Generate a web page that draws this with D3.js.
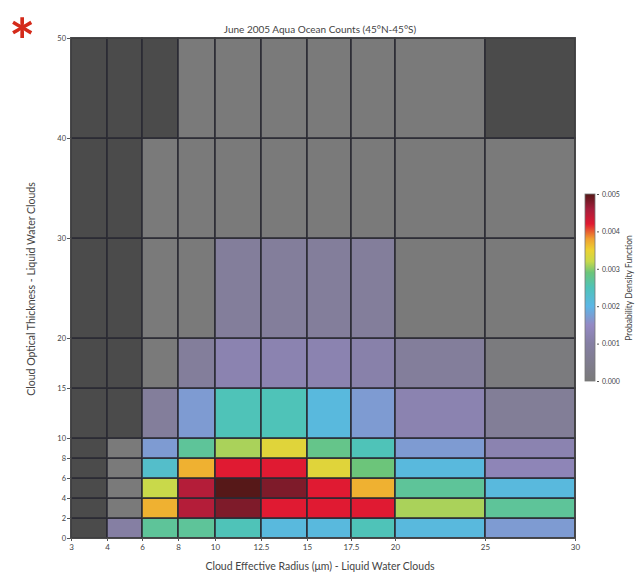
<!DOCTYPE html>
<html>
<head>
<meta charset="utf-8">
<script src="https://cdn.jsdelivr.net/npm/d3@7"></script>
<style>
  body { margin: 0; background: #fff; }
  svg text { font-family: Lato, "Open Sans", sans-serif; fill: #444; }
  .axis path, .axis line { stroke: #555; }
</style>
</head>
<body>
<script>
//Bin edges
var xEdges = [3, 4, 6, 8, 10, 12.5, 15, 17.5, 20, 25, 30];
var yEdges = [0, 2, 4, 6, 8, 10, 15, 20, 30, 40, 50];

//PDF values per row (bottom row first), null = no data
var row0_2   = [null, 0.0010, 0.0027, 0.0027, 0.0025, 0.0021, 0.0021, 0.0025, 0.0021, 0.0017];
var row2_4   = [null, 0.0000, 0.0037, 0.0045, 0.0048, 0.0042, 0.0042, 0.0042, 0.0031, 0.0027];
var row4_6   = [null, 0.0000, 0.0032, 0.0045, 0.0050, 0.0048, 0.0042, 0.0037, 0.0027, 0.0021];
var row6_8   = [null, 0.0000, 0.0023, 0.0037, 0.0042, 0.0042, 0.0034, 0.0029, 0.0021, 0.0013];
var row8_10  = [null, 0.0000, 0.0017, 0.0027, 0.0031, 0.0034, 0.0028, 0.0025, 0.0017, 0.0012];
var row10_15 = [null, null, 0.0008, 0.0017, 0.0025, 0.0025, 0.0021, 0.0017, 0.0012, 0.0007];
var row15_20 = [null, null, 0.0000, 0.0008, 0.0012, 0.0012, 0.0012, 0.0011, 0.0008, 0.0001];
var row20_30 = [null, null, 0.0000, 0.0000, 0.0008, 0.0008, 0.0008, 0.0008, 0.0000, 0.0000];
var row30_40 = [null, null, 0.0000, 0.0000, 0.0000, 0.0000, 0.0000, 0.0000, 0.0000, 0.0000];
var row40_50 = [null, null, null, 0.0000, 0.0000, 0.0000, 0.0000, 0.0000, 0.0000, null];
var rows = [row0_2, row2_4, row4_6, row6_8, row8_10, row10_15, row15_20, row20_30, row30_40, row40_50];

var xTicks = [3, 4, 6, 8, 10, 12.5, 15, 17.5, 20, 25, 30];
var yTicks = [0, 2, 4, 6, 8, 10, 15, 20, 30, 40, 50];
var cbTicks = [0, 0.001, 0.002, 0.003, 0.004, 0.005];

//Colour map stops
var cStops = [0, 0.001, 0.0015, 0.002, 0.0025, 0.0029, 0.0032, 0.0035, 0.0038, 0.0042, 0.0046, 0.005];
var cColors = ["#7a7a7a", "#857fa3", "#9489c4", "#5cb6e6", "#4fc3b8", "#6cc57a", "#c9d94a", "#ecd232", "#f0a030", "#e01a32", "#a51e3c", "#561818"];

var w = 642;
var h = 577;

var color = d3.scaleLinear().domain(cStops).range(cColors).clamp(true);

//Piecewise x scale, linear y scale
var xScale = d3.scaleLinear()
  .domain(xEdges)
  .range([71, 107, 142, 178, 215, 261, 307, 351, 395, 485, 575]);
var yScale = d3.scaleLinear().domain([0, 50]).range([538, 38]);

var svg = d3.select("body").append("svg").attr("width", w).attr("height", h);

//Cells
var cells = [];
rows.forEach(function (r, j) {
  r.forEach(function (v, i) {
    cells.push({ x0: xEdges[i], x1: xEdges[i + 1], y0: yEdges[j], y1: yEdges[j + 1], v: v });
  });
});

svg.append("g")
  .selectAll("rect")
  .data(cells)
  .enter()
  .append("rect")
  .attr("x", function (d) { return xScale(d.x0); })
  .attr("y", function (d) { return yScale(d.y1); })
  .attr("width", function (d) { return xScale(d.x1) - xScale(d.x0); })
  .attr("height", function (d) { return yScale(d.y0) - yScale(d.y1); })
  .attr("fill", function (d) { return d.v === null ? "#4b4b4b" : color(d.v); })
  .attr("stroke", "#2a2a34")
  .attr("stroke-width", 1.8)
  .attr("stroke-opacity", 0.85);

//Plot border
svg.append("rect")
  .attr("x", xScale(3))
  .attr("y", yScale(50))
  .attr("width", xScale(30) - xScale(3))
  .attr("height", yScale(0) - yScale(50))
  .attr("fill", "none")
  .attr("stroke", "#444")
  .attr("stroke-width", 1.5);

//Axes
var xAxis = d3.axisBottom(xScale).tickValues(xTicks).tickSize(3).tickFormat(d3.format("~g"));
var yAxis = d3.axisLeft(yScale).tickValues(yTicks).tickSize(4).tickFormat(d3.format("~g"));

svg.append("g")
  .attr("class", "axis")
  .attr("transform", "translate(0," + yScale(0) + ")")
  .call(xAxis)
  .call(function (g) { g.select(".domain").remove(); })
  .selectAll("text")
  .attr("font-size", 8);

svg.append("g")
  .attr("class", "axis")
  .attr("transform", "translate(" + xScale(3) + ",0)")
  .call(yAxis)
  .call(function (g) { g.select(".domain").remove(); })
  .selectAll("text")
  .attr("font-size", 7.5)
  .attr("dx", 2);

//Titles
svg.append("text")
  .attr("x", 320)
  .attr("y", 33)
  .attr("text-anchor", "middle")
  .attr("font-size", 10)
  .text("June 2005 Aqua Ocean Counts (45°N-45°S)");

svg.append("text")
  .attr("x", 320)
  .attr("y", 570)
  .attr("text-anchor", "middle")
  .attr("font-size", 10.5)
  .text("Cloud Effective Radius (μm) - Liquid Water Clouds");

svg.append("text")
  .attr("transform", "translate(35,289) rotate(-90)")
  .attr("text-anchor", "middle")
  .attr("font-size", 10.5)
  .text("Cloud Optical Thickness - Liquid Water Clouds");

//Red asterisk
svg.append("text")
  .attr("x", 9)
  .attr("y", 64)
  .attr("font-size", 62)
  .attr("font-weight", "bold")
  .style("fill", "#d42a1a")
  .text("*");

//Colour bar
var cbScale = d3.scaleLinear().domain([0, 0.005]).range([381, 194]);
var defs = svg.append("defs");
var grad = defs.append("linearGradient")
  .attr("id", "cb")
  .attr("x1", 0).attr("x2", 0).attr("y1", 1).attr("y2", 0);
grad.selectAll("stop")
  .data(cStops)
  .enter()
  .append("stop")
  .attr("offset", function (d) { return d / 0.005; })
  .attr("stop-color", function (d) { return color(d); });

svg.append("rect")
  .attr("x", 585)
  .attr("y", cbScale(0.005))
  .attr("width", 10)
  .attr("height", cbScale(0) - cbScale(0.005))
  .attr("fill", "url(#cb)")
  .attr("stroke", "#777")
  .attr("stroke-width", 0.8);

svg.append("g")
  .attr("class", "axis")
  .attr("transform", "translate(597,0)")
  .call(d3.axisRight(cbScale).tickValues(cbTicks).tickSize(2).tickFormat(d3.format(".3f")))
  .call(function (g) { g.select(".domain").remove(); })
  .selectAll("text")
  .attr("font-size", 7);

svg.append("text")
  .attr("transform", "translate(632,288) rotate(-90)")
  .attr("text-anchor", "middle")
  .attr("font-size", 8.5)
  .text("Probability Density Function");
</script>
</body>
</html>
